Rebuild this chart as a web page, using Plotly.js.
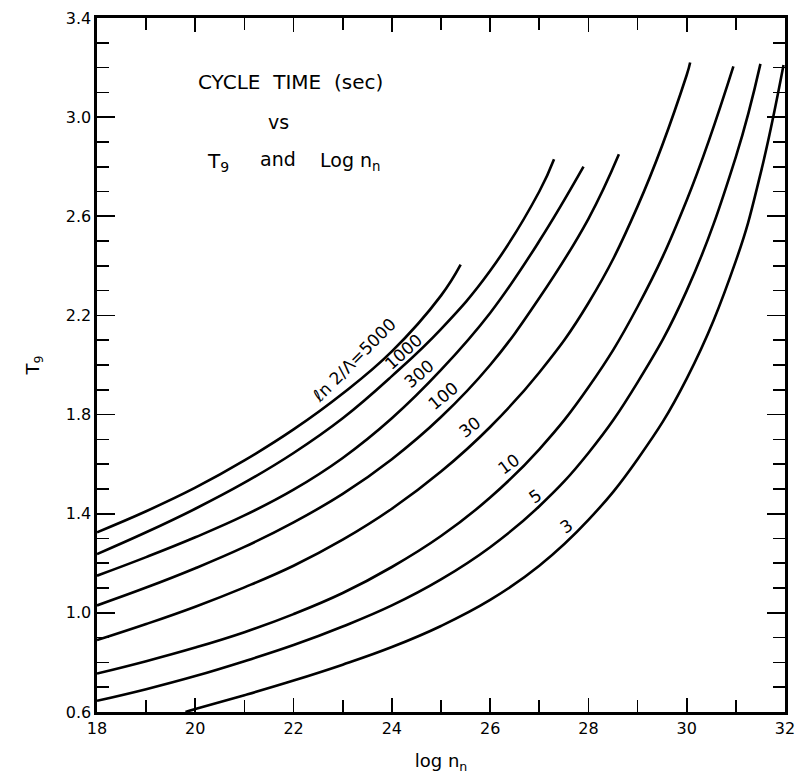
<!DOCTYPE html>
<html>
<head>
<meta charset="utf-8">
<script src="https://cdn.plot.ly/plotly-3.0.1.min.js"></script>
<style>html,body{margin:0;padding:0;background:#fff;}#chart{width:802px;height:780px;}</style>
</head>
<body>
<div id="chart"></div>
<script>
// Curve data: x = log n_n, y = T9, one curve per value of ln2/lambda
const c5000_x = [18, 19, 20, 21, 22, 23, 24, 25, 25.4];
const c5000_y = [1.325, 1.41, 1.505, 1.615, 1.74, 1.885, 2.055, 2.28, 2.405];
const c1000_x = [18, 19, 20, 21, 22, 23, 24, 25, 26, 27, 27.3];
const c1000_y = [1.237, 1.325, 1.42, 1.525, 1.645, 1.785, 1.955, 2.145, 2.38, 2.70, 2.83];
const c300_x = [18, 19, 20, 21, 22, 23, 24, 25, 26, 27, 27.9];
const c300_y = [1.15, 1.225, 1.305, 1.393, 1.497, 1.625, 1.785, 1.98, 2.21, 2.50, 2.80];
const c100_x = [18, 19, 20, 21, 22, 23, 24, 25, 26, 27, 28, 28.62];
const c100_y = [1.03, 1.102, 1.18, 1.266, 1.365, 1.48, 1.62, 1.79, 2.0, 2.27, 2.59, 2.85];
const c30_x = [18, 19, 20, 21, 22, 23, 24, 25, 26, 27, 28, 29, 30, 30.07];
const c30_y = [0.89, 0.955, 1.025, 1.103, 1.19, 1.295, 1.42, 1.57, 1.75, 1.97, 2.25, 2.64, 3.17, 3.22];
const c10_x = [18, 19, 20, 21, 22, 23, 24, 25, 26, 27, 28, 29, 30, 30.95];
const c10_y = [0.755, 0.805, 0.86, 0.922, 0.995, 1.08, 1.185, 1.31, 1.465, 1.66, 1.91, 2.235, 2.665, 3.205];
const c5_x = [18, 19, 20, 21, 22, 23, 24, 25, 26, 27, 28, 29, 30, 31, 31.5];
const c5_y = [0.645, 0.692, 0.745, 0.805, 0.87, 0.945, 1.03, 1.135, 1.265, 1.43, 1.645, 1.93, 2.30, 2.84, 3.215];
const c3_x = [19.8, 20, 21, 22, 23, 24, 25, 26, 27, 28, 29, 30, 31, 31.5, 31.97];
const c3_y = [0.6, 0.612, 0.668, 0.727, 0.791, 0.862, 0.947, 1.052, 1.19, 1.375, 1.62, 1.945, 2.42, 2.77, 3.21];

const curveNames = ["5000", "1000", "300", "100", "30", "10", "5", "3"];
const curveX = [c5000_x, c1000_x, c300_x, c100_x, c30_x, c10_x, c5_x, c3_x];
const curveY = [c5000_y, c1000_y, c300_y, c100_y, c30_y, c10_y, c5_y, c3_y];
const curveLabels = ["\u2113n 2/\u039B=5000", "1000", "300", "100", "30", "10", "5", "3"];
// label anchor positions (data coords)
const labelX = [23.23, 24.23, 24.55, 25.04, 25.59, 26.38, 26.93, 27.56];
const labelY = [2.02, 2.052, 1.963, 1.875, 1.75, 1.60, 1.47, 1.35];
const labelAngle = [-45, -42, -41, -40, -38, -36, -35, -34];

const xTickVals = [18, 20, 22, 24, 26, 28, 30, 32];
const yTickVals = [0.6, 1.0, 1.4, 1.8, 2.2, 2.6, 3.0, 3.4];

const FONT = "DejaVu Sans, Liberation Sans, sans-serif";

const traces = curveNames.map((n, i) => ({
  type: "scatter", mode: "lines", name: n,
  x: curveX[i], y: curveY[i],
  line: {color: "#000", width: 2.6, shape: "spline", smoothing: 1.2},
  hoverinfo: "skip"
}));

const annotations = curveLabels.map((t, i) => ({
  x: labelX[i], y: labelY[i], xref: "x", yref: "y",
  text: t, showarrow: false, textangle: labelAngle[i],
  font: {family: FONT, size: 17, color: "#000"}
}));
annotations.push(
  {x: 21.93, y: 3.14, xref: "x", yref: "y", text: "CYCLE&nbsp;&nbsp;TIME&nbsp;&nbsp;(sec)", showarrow: false, font: {family: FONT, size: 20, color: "#000"}},
  {x: 21.70, y: 2.98, xref: "x", yref: "y", text: "vs", showarrow: false, font: {family: FONT, size: 19, color: "#000"}},
  {x: 20.46, y: 2.82, xref: "x", yref: "y", text: "T<sub>9</sub>", showarrow: false, font: {family: FONT, size: 20, color: "#000"}},
  {x: 21.68, y: 2.83, xref: "x", yref: "y", text: "and", showarrow: false, font: {family: FONT, size: 19, color: "#000"}},
  {x: 23.15, y: 2.82, xref: "x", yref: "y", text: "Log n<sub>n</sub>", showarrow: false, font: {family: FONT, size: 19, color: "#000"}}
);

const layout = {
  width: 802, height: 780,
  margin: {l: 97, r: 17, t: 18, b: 68},
  paper_bgcolor: "#fff", plot_bgcolor: "#fff",
  showlegend: false,
  font: {family: FONT, size: 16, color: "#000"},
  xaxis: {
    range: [18, 32], tickvals: xTickVals, ticktext: xTickVals.map(String),
    ticks: "inside", ticklen: 14, tickwidth: 1.8, tickcolor: "#000",
    minor: {dtick: 1, ticks: "inside", ticklen: 12, tickwidth: 1.6, tickcolor: "#000"},
    showline: true, linewidth: 2.6, linecolor: "#000", mirror: "allticks",
    showgrid: false, zeroline: false,
    tickfont: {family: FONT, size: 16, color: "#000"},
    title: {text: "log n<sub>n</sub>", font: {family: FONT, size: 18, color: "#000"}, standoff: 18}
  },
  yaxis: {
    range: [0.6, 3.4], tickvals: yTickVals, ticktext: yTickVals.map(v => v.toFixed(1)),
    ticks: "inside", ticklen: 18, tickwidth: 1.8, tickcolor: "#000",
    minor: {dtick: 0.1, tick0: 0.6, ticks: "inside", ticklen: 12, tickwidth: 1.6, tickcolor: "#000"},
    showline: true, linewidth: 2.6, linecolor: "#000", mirror: "allticks",
    showgrid: false, zeroline: false,
    tickfont: {family: FONT, size: 16, color: "#000"},
    title: {text: "T<sub>9</sub>", font: {family: FONT, size: 18, color: "#000"}, standoff: 22}
  },
  annotations: annotations
};

Plotly.newPlot("chart", traces, layout, {staticPlot: true, displayModeBar: false});
</script>
</body>
</html>
